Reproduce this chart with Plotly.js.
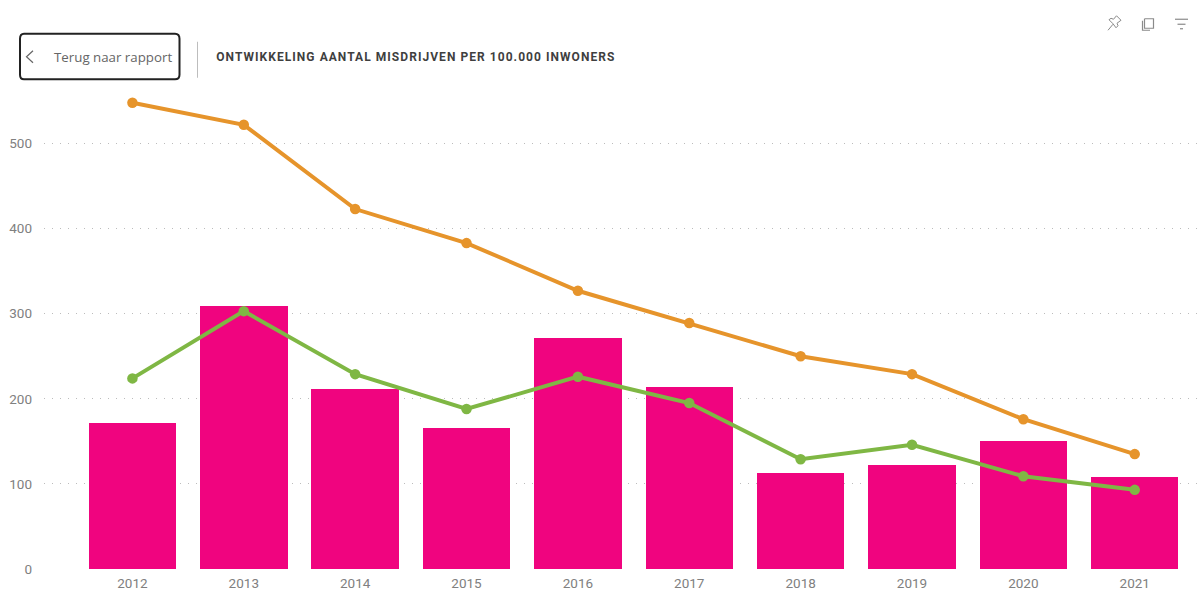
<!DOCTYPE html>
<html>
<head>
<meta charset="utf-8">
<script src="https://cdn.plot.ly/plotly-3.0.1.min.js"></script>
<style>html,body{margin:0;padding:0;background:#fff;overflow:hidden}</style>
</head>
<body>
<div id="chart" style="width:1204px;height:590px"></div>
<script>
const years = ['2012','2013','2014','2015','2016','2017','2018','2019','2020','2021'];
const barValues = [171,309,212,166,272,214,113,122,150,108];
const orangeValues = [548,522,423,383,327,289,250,229,176,135];
const greenValues = [224,303,229,188,226,195,129,146,109,93];
const yTicks = [0,100,200,300,400,500];
const titleText = 'ONTWIKKELING AANTAL MISDRIJVEN PER 100.000 INWONERS';
const backText = 'Terug naar rapport';

const W = 1204, H = 590, L = 44, R = 0, T = 90.25, B = 20.75;
const px = x => (x - L) / (W - L - R);
const py = y => 1 - (y - T) / (H - T - B);
const P = (pts) => pts.map((p, i) => (i ? 'L' : 'M') + px(p[0]) + ',' + py(p[1])).join(' ');
const paperPath = (pts, color, width) => ({type:'path', xref:'paper', yref:'paper', path:P(pts),
  line:{color:color, width:width}, layer:'above'});

const traces = [
  {type:'bar', x:years.map((_,i)=>i), y:barValues, width:0.785, marker:{color:'#F0047F', line:{width:0}}, hoverinfo:'skip', showlegend:false},
  {type:'scatter', mode:'lines+markers', x:years.map((_,i)=>i), y:orangeValues, line:{color:'#E6942B', width:4}, marker:{color:'#E6942B', size:10.5}, hoverinfo:'skip', showlegend:false, cliponaxis:false},
  {type:'scatter', mode:'lines+markers', x:years.map((_,i)=>i), y:greenValues, line:{color:'#7FB744', width:4}, marker:{color:'#7FB744', size:10.5}, hoverinfo:'skip', showlegend:false, cliponaxis:false}
];

const iconGray = '#8a8a8a';
const shapes = [
  {type:'path', xref:'paper', yref:'paper', layer:'above', fillcolor:'#fff',
   line:{color:'#222', width:2},
   path:`M${px(24)},${py(34)} L${px(175)},${py(34)} Q${px(179.5)},${py(34)} ${px(179.5)},${py(39)} L${px(179.5)},${py(75)} Q${px(179.5)},${py(79.5)} ${px(175)},${py(79.5)} L${px(24)},${py(79.5)} Q${px(20)},${py(79.5)} ${px(20)},${py(75)} L${px(20)},${py(39)} Q${px(20)},${py(34)} ${px(24)},${py(34)} Z`},
  paperPath([[33,51],[26.5,57],[33,63]], '#666', 1.2),
  paperPath([[197.5,42],[197.5,78]], '#bdbdbd', 1),
  // pin icon
  paperPath([[1109,20],[1113,24],[1116,28],[1118,26],[1117,23.5],[1121,20.5],[1116.5,16],[1113.5,19.5],[1111,18.5],[1109,20]], iconGray, 1),
  paperPath([[1113,24.5],[1108,30.5]], iconGray, 1),
  // copy icon
  paperPath([[1144.5,19],[1153.5,19],[1153.5,28.5],[1144.5,28.5],[1144.5,19]], iconGray, 1.2),
  paperPath([[1142.5,21],[1142.5,30.5],[1150,30.5]], iconGray, 1.2),
  // filter icon
  paperPath([[1175,19.5],[1188,19.5]], iconGray, 1.2),
  paperPath([[1177.5,24.5],[1185.5,24.5]], iconGray, 1.2),
  paperPath([[1180,29],[1183,29]], iconGray, 1.2)
];

const annotations = [
  {xref:'paper', yref:'paper', x:px(113), y:py(57.5), xanchor:'center', yanchor:'middle', showarrow:false,
   text:backText, font:{family:'"Open Sans", "Noto Sans", sans-serif', size:13.3, color:'#666'}},
  {xref:'paper', yref:'paper', x:px(415.5), y:py(57.5), xanchor:'center', yanchor:'middle', showarrow:false,
   text:'<b>'+titleText+'</b>', font:{family:'Roboto, "Noto Sans", sans-serif', size:12, color:'#3f3f3f'}}
];

const layout = {
  width:W, height:H, margin:{l:L, r:R, t:T, b:B, pad:0},
  paper_bgcolor:'#fff', plot_bgcolor:'#fff',
  showlegend:false, bargap:0,
  font:{family:'Roboto, "Open Sans", sans-serif', size:13.5, color:'#808080'},
  xaxis:{range:[-0.794,9.622], tickmode:'array', tickvals:years.map((_,i)=>i), ticktext:years,
         showgrid:false, zeroline:false, showline:false, ticks:'', ticklabelstandoff:4,
         tickfont:{size:13.5, color:'#808080'}},
  yaxis:{range:[0,562.9], tickmode:'array', tickvals:yTicks, ticktext:yTicks.map(String),
         showgrid:true, griddash:'1px,7px', gridcolor:'#bcbcbc', gridwidth:1, zeroline:false, showline:false, ticks:'',
         ticklabelstandoff:11, tickfont:{size:13.5, color:'#808080'}},
  shapes:shapes, annotations:annotations
};
Plotly.newPlot('chart', traces, layout, {displayModeBar:false, staticPlot:true}).then(()=>{
  document.querySelectorAll('.annotation-text').forEach(t=>{
    if(t.textContent===titleText){t.style.letterSpacing='1.05px';}
  });
});
</script>
</body>
</html>
